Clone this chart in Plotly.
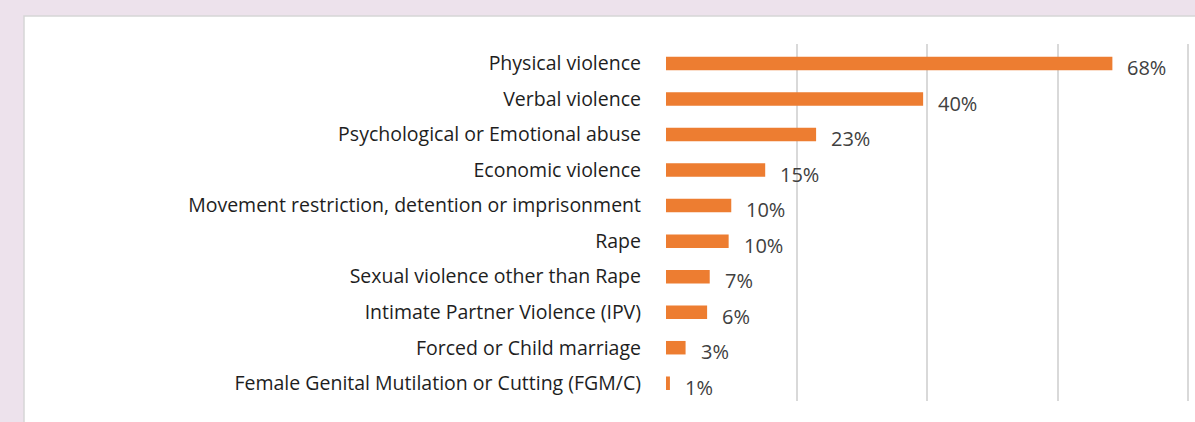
import plotly.graph_objects as go

categories = [
    "Physical violence",
    "Verbal violence",
    "Psychological or Emotional abuse",
    "Economic violence",
    "Movement restriction, detention or imprisonment",
    "Rape",
    "Sexual violence other than Rape",
    "Intimate Partner Violence (IPV)",
    "Forced or Child marriage",
    "Female Genital Mutilation or Cutting (FGM/C)",
]
values = [68.4, 39.4, 23.0, 15.2, 10.0, 9.6, 6.7, 6.3, 3.0, 0.6]
value_labels = ["68%", "40%", "23%", "15%", "10%", "10%", "7%", "6%", "3%", "1%"]
grid_ticks = [0, 20, 40, 60, 80]

W, H = 1195, 422
L, R, T, B = 666, 3, 44, 21
pw, ph = W - L - R, H - T - B

def px_x(p):
    return (p - L) / pw

def px_y(p):
    return (H - B - p) / ph

fig = go.Figure()
fig.add_trace(go.Bar(
    x=values, y=categories, orientation="h",
    marker=dict(color="#ED7D31", line=dict(width=0)),
    hoverinfo="skip",
))

annotations = []
for c, v, t in zip(categories, values, value_labels):
    annotations.append(dict(
        x=v, y=c, xref="x", yref="y", text=t, showarrow=False,
        xanchor="left", yanchor="middle", xshift=13, yshift=-4,
        font=dict(family="Open Sans", size=20, color="#404040"),
    ))

fig.update_layout(
    width=W, height=H,
    margin=dict(l=L, r=R, t=T, b=B, pad=0),
    paper_bgcolor="#EDE2EC",
    plot_bgcolor="rgba(0,0,0,0)",
    bargap=0.62,
    showlegend=False,
    annotations=annotations,
    shapes=[dict(
        type="rect", xref="paper", yref="paper", layer="below",
        x0=px_x(24), x1=px_x(1210), y0=px_y(440), y1=px_y(16),
        fillcolor="white", line=dict(color="#D6D6D6", width=1.5),
    )],
    xaxis=dict(
        range=[0, 80.6], tickvals=grid_ticks, showticklabels=False,
        showgrid=True, gridcolor="#D9D9D9", gridwidth=2,
        zeroline=False, showline=False, fixedrange=True,
    ),
    yaxis=dict(
        categoryorder="array", categoryarray=categories,
        autorange="reversed", showgrid=False, zeroline=False,
        showline=False, ticks="", ticklabelstandoff=24, fixedrange=True,
        tickfont=dict(family="Open Sans", size=19.5, color="#1E1E1E"),
    ),
)

fig.write_html(
    "out.html",
    config={"displayModeBar": False},
    post_script="document.body.style.margin='0';document.body.style.background='#EDE2EC';",
)
